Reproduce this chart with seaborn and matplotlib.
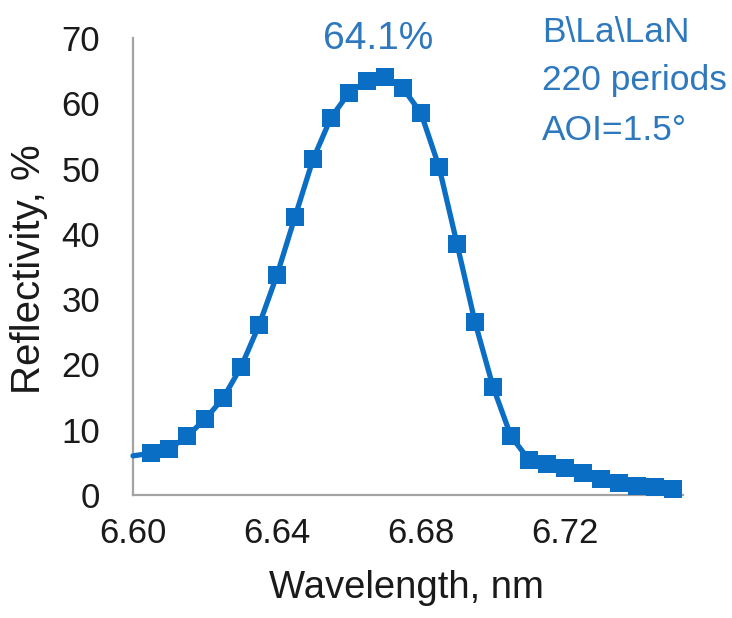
import matplotlib
matplotlib.use("Agg")
import matplotlib.pyplot as plt
import seaborn as sns
import pandas as pd

# Reflectivity curve of a B\La\LaN multilayer mirror
wavelength_nm = [6.600, 6.605, 6.610, 6.615, 6.620, 6.625, 6.630, 6.635, 6.640,
                 6.645, 6.650, 6.655, 6.660, 6.665, 6.670, 6.675, 6.680, 6.685,
                 6.690, 6.695, 6.700, 6.705, 6.710, 6.715, 6.720, 6.725, 6.730,
                 6.735, 6.740, 6.745, 6.750]
reflectivity_pct = [6.0, 6.4, 7.0, 9.0, 11.6, 14.8, 19.6, 26.0, 33.7,
                    42.6, 51.4, 57.8, 61.6, 63.4, 64.1, 62.3, 58.5, 50.3,
                    38.5, 26.5, 16.6, 9.0, 5.4, 4.7, 4.2, 3.4, 2.4,
                    1.8, 1.4, 1.2, 0.9]
x_ticks = [6.60, 6.64, 6.68, 6.72]
y_ticks = [0, 10, 20, 30, 40, 50, 60, 70]
info_lines = ["B\\La\\LaN", "220 periods", "AOI=1.5°"]

LINE_BLUE = "#0A6EC4"
TEXT_BLUE = "#2E78BE"
AXIS_GRAY = "#A3A3A3"

sns.set_theme(style="white")
plt.rcParams["font.family"] = ["Liberation Sans", "DejaVu Sans"]

df = pd.DataFrame({"Wavelength": wavelength_nm, "Reflectivity": reflectivity_pct})

fig = plt.figure(figsize=(7.32, 6.18), dpi=100)
ax = fig.add_axes([0.1817, 0.199, 0.7514, 0.7395])

sns.lineplot(data=df, x="Wavelength", y="Reflectivity", ax=ax,
             color=LINE_BLUE, linewidth=3.8, marker="s", markersize=13,
             markeredgewidth=0, markevery=list(range(1, len(df))),
             clip_on=False, zorder=3)

ax.set_xlim(6.600, 6.7528)
ax.set_ylim(0, 70)
ax.set_xticks(x_ticks)
ax.set_xticklabels([f"{v:.2f}" for v in x_ticks])
ax.set_yticks(y_ticks)
ax.set_yticklabels([str(v) for v in y_ticks])

for side in ("top", "right"):
    ax.spines[side].set_visible(False)
for side in ("left", "bottom"):
    ax.spines[side].set_color(AXIS_GRAY)
    ax.spines[side].set_linewidth(1.6)

ax.tick_params(axis="both", which="major", direction="out", length=6.5,
               width=1.4, color=AXIS_GRAY, labelsize=25, labelcolor="#1a1a1a")
ax.tick_params(axis="y", pad=17)
ax.tick_params(axis="x", pad=9)

ax.set_xlabel("Wavelength, nm", fontsize=27.5, color="#1a1a1a")
ax.set_ylabel("Reflectivity, %", fontsize=29, color="#1a1a1a")
ax.xaxis.label.set_va("center")
ax.yaxis.label.set_va("center")
ax.xaxis.set_label_coords(0.498, -0.2035)
ax.yaxis.set_label_coords(-0.189, 0.4945)

# Peak value label above the maximum
peak = max(reflectivity_pct)
peak_x = wavelength_nm[reflectivity_pct.index(peak)]
ax.text(peak_x - 0.002, 69.8, f"{peak:.1f}%", ha="center", va="center",
        fontsize=28, color=TEXT_BLUE, clip_on=False)

# Sample description in the upper right corner
for line, y in zip(info_lines, [0.932, 0.854, 0.773]):
    fig.text(0.7404, y, line, ha="left", va="baseline", fontsize=25.5,
             color=TEXT_BLUE)

fig.savefig("out.png", dpi=100)
